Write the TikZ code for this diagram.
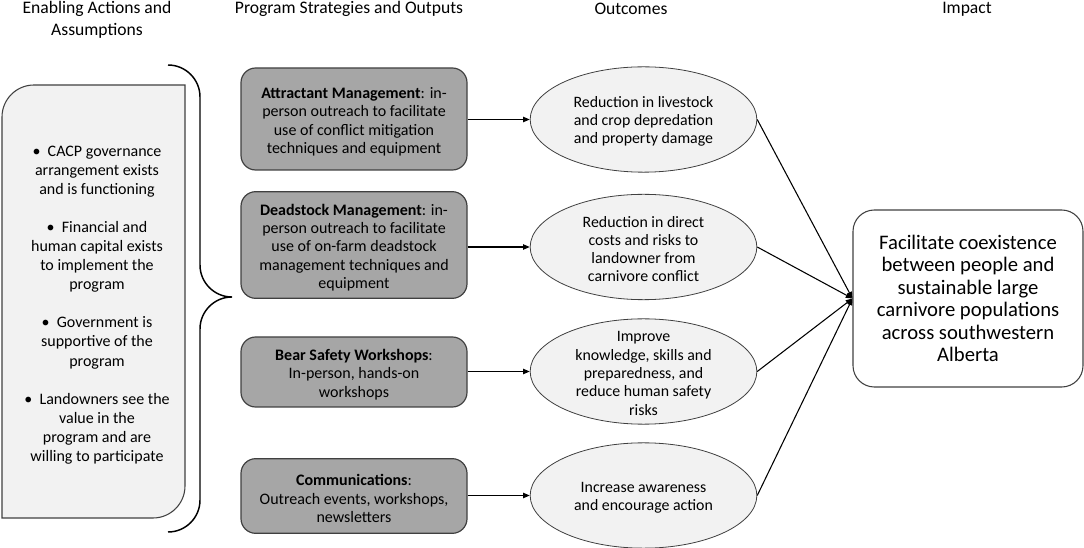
\documentclass[tikz,border=0pt]{standalone}
\usepackage{fontspec}
\setmainfont{Carlito}
\usetikzlibrary{shapes.geometric,arrows.meta}
\definecolor{boxgrey}{HTML}{A6A6A6}
\definecolor{lightfill}{HTML}{F2F2F2}
\definecolor{edgegrey}{HTML}{404040}
\begin{document}
\begin{tikzpicture}[x=0.75pt,y=-0.75pt,
  hdr/.style={font=\fontsize{13.2}{16.5}\selectfont, align=center, inner sep=0},
  strat/.style={draw=edgegrey, fill=boxgrey, rounded corners=11pt, line width=0.9pt,
    minimum width=169.5pt, inner sep=0},
  strattext/.style={align=center, inner sep=0, yshift=-2pt,
    font=\fontsize{12}{13.7}\selectfont},
  outc/.style={ellipse, draw=edgegrey, fill=lightfill, line width=0.6pt,
    minimum width=170pt, minimum height=79pt, inner sep=0},
  outctext/.style={align=center, inner sep=0, yshift=-1.5pt,
    font=\fontsize{11.9}{13.7}\selectfont},
  imp/.style={draw=edgegrey, rounded corners=16pt, line width=0.8pt,
    minimum width=172.5pt, minimum height=132.75pt, align=center, inner sep=0,
    font=\fontsize{15.5}{16.8}\selectfont},
  lefttext/.style={align=center, inner sep=0, font=\fontsize{12}{14.3}\selectfont},
  leftbox/.style={draw=edgegrey, fill=lightfill, line width=0.8pt},
  bracepath/.style={draw=black, line width=1.1pt},
  arr/.style={-{Triangle[length=5pt,width=4pt]}, line width=0.8pt}
]
\useasboundingbox (0,0) rectangle (1084,548);

% headers
\node[hdr] (h1) at (97,19.5) {Enabling Actions and\\Assumptions};
\node[hdr] (h2) at (349,9) {Program Strategies and Outputs};
\node[hdr] (h3) at (631,9) {Outcomes};
\node[hdr] (h4) at (967,9) {Impact};

% left box
\path[leftbox] (2,518) -- (2,117) arc[start angle=180,end angle=270,radius=32]
  -- (185,85) -- (185,486) arc[start angle=0,end angle=90,radius=32] -- cycle;
\node[lefttext] (la) at (97,305) {%
  •\hspace{0.45em}CACP governance\\arrangement exists\\and is functioning\\[14.3pt]
  •\hspace{0.45em}Financial and\\human capital exists\\to implement the\\program\\[14.3pt]
  •\hspace{0.45em}Government is\\supportive of the\\program\\[14.3pt]
  •\hspace{0.45em}Landowners see the\\value in the\\program and are\\willing to participate};

% brace
\path[bracepath] (168,65) arc[start angle=270,end angle=360,radius=32]
  -- (200,265) arc[start angle=180,end angle=90,radius=32]
  arc[start angle=270,end angle=180,radius=32]
  -- (200,500) arc[start angle=0,end angle=90,radius=32];

% strategies
\node[strat, minimum height=76.5pt] (s1) at (354,119) {};
\node[strattext] (s1t) at (s1) {\textbf{Attractant Management}: in-\\person outreach to facilitate\\use of conflict mitigation\\techniques and equipment};
\node[strat, minimum height=80pt] (s2) at (354,245) {};
\node[strattext] (s2t) at (s2) {\textbf{Deadstock Management}: in-\\person outreach to facilitate\\use of on-farm deadstock\\management techniques and\\equipment};
\node[strat, minimum height=52.5pt] (s3) at (354,372) {};
\node[strattext] (s3t) at (s3) {\textbf{Bear Safety Workshops}:\\In-person, hands-on\\workshops};
\node[strat, minimum height=56pt] (s4) at (354,496) {};
\node[strattext] (s4t) at (s4) {\textbf{Communications}:\\Outreach events, workshops,\\newsletters};

% outcomes
\node[outc] (o1) at (643.5,119.5) {};
\node[outctext] (o1t) at (o1) {Reduction in livestock\\and crop depredation\\and property damage};
\node[outc] (o2) at (643.5,247) {};
\node[outctext] (o2t) at (o2) {Reduction in direct\\costs and risks to\\landowner from\\carnivore conflict};
\node[outc] (o3) at (643.5,371.5) {};
\node[outctext] (o3t) at (o3) {Improve\\knowledge, skills and\\preparedness, and\\reduce human safety\\risks};
\node[outc] (o4) at (643.5,495.5) {};
\node[outctext] (o4t) at (o4) {Increase awareness\\and encourage action};

% impact
\node[imp] (impact) at (968,298.5) {Facilitate coexistence\\between people and\\sustainable large\\carnivore populations\\across southwestern\\Alberta};

% arrows
\draw[arr] (s1.east |- o1) -- (o1.west);
\draw[arr] (s2.east |- o2) -- (o2.west);
\draw[arr] (s3.east |- o3) -- (o3.west);
\draw[arr] (s4.east |- o4) -- (o4.west);
\draw[arr] (o1.east) -- (impact.west);
\draw[arr] (o2.east) -- (impact.west);
\draw[arr] (o3.east) -- (impact.west);
\draw[arr] (o4.east) -- (impact.west);
\end{tikzpicture}
\end{document}
